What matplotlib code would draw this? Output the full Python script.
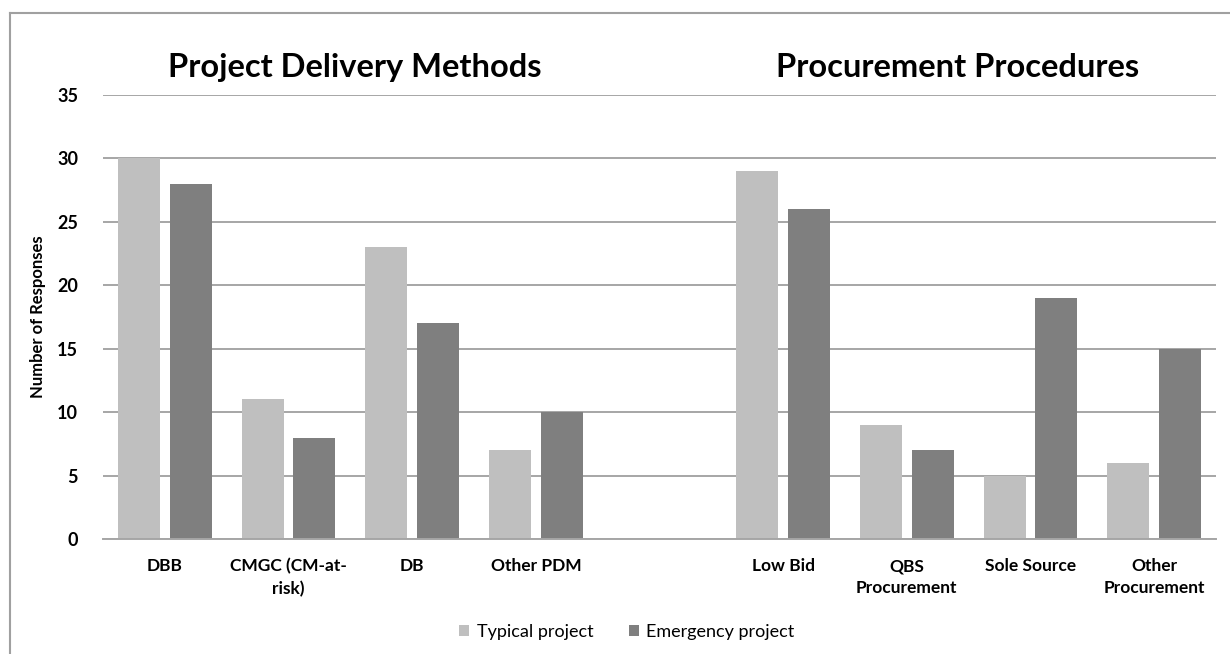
import numpy as np
import matplotlib.pyplot as plt
from matplotlib.lines import Line2D

plt.rcParams['font.family'] = ['Lato', 'DejaVu Sans']

categories = ['DBB', 'CMGC (CM-at-\nrisk)', 'DB', 'Other PDM', '',
              'Low Bid', 'QBS\nProcurement', 'Sole Source', 'Other\nProcurement']
typical = [30, 11, 23, 7, np.nan, 29, 9, 5, 6]
emergency = [28, 8, 17, 10, np.nan, 26, 7, 19, 15]
yticks = [0, 5, 10, 15, 20, 25, 30, 35]

fig = plt.figure(figsize=(12.3, 6.54), dpi=100)
ax = fig.add_axes([103 / 1230, 1 - 539 / 654, 1113 / 1230, 444 / 654])

x = np.arange(len(categories))
w = 0.34
ax.bar(x - 0.208, typical, w, color='#bfbfbf', label='Typical project', zorder=3)
ax.bar(x + 0.208, emergency, w, color='#7f7f7f', label='Emergency project', zorder=3)

ax.set_xlim(-0.5, len(categories) - 0.5)
ax.set_ylim(0, 35)
ax.set_yticks(yticks)
ax.set_yticklabels([str(v) for v in yticks], fontsize=13, fontweight='bold')
ax.set_xticks(x)
ax.set_xticklabels(categories, fontsize=12.5, fontweight='bold', linespacing=1.45)
ax.tick_params(axis='both', length=0)
ax.tick_params(axis='y', pad=18)
ax.tick_params(axis='x', pad=14)
ax.grid(axis='y', color='#a6a6a6', linewidth=1.4, zorder=0)
for s in ['top', 'right', 'left']:
    ax.spines[s].set_visible(False)
ax.spines['bottom'].set_color('#a6a6a6')
ax.spines['bottom'].set_linewidth(1.4)
ax.spines['bottom'].set_zorder(4)

ax.set_ylabel('Number of Responses', fontsize=12, fontweight='bold', labelpad=8)

# section headings above each group
fig.text(355 / 1230, 1 - 77 / 654, 'Project Delivery Methods', fontsize=23.5,
         fontweight='bold', ha='center', va='baseline')
fig.text(958 / 1230, 1 - 77 / 654, 'Procurement Procedures', fontsize=23.5,
         fontweight='bold', ha='center', va='baseline')

fig.legend(loc='center', bbox_to_anchor=(627 / 1230, 1 - 632 / 654), ncol=2,
           frameon=False, fontsize=13, handlelength=0.55, handleheight=0.55,
           handletextpad=0.4, columnspacing=2.0)

# chart border (top and left edges)
fig.add_artist(Line2D([9.5 / 1230, 1], [1 - 12.5 / 654] * 2, color='#a0a0a0', lw=1.5))
fig.add_artist(Line2D([9.5 / 1230] * 2, [0, 1 - 12.5 / 654], color='#a0a0a0', lw=1.5))

fig.savefig('out.png', dpi=100)
